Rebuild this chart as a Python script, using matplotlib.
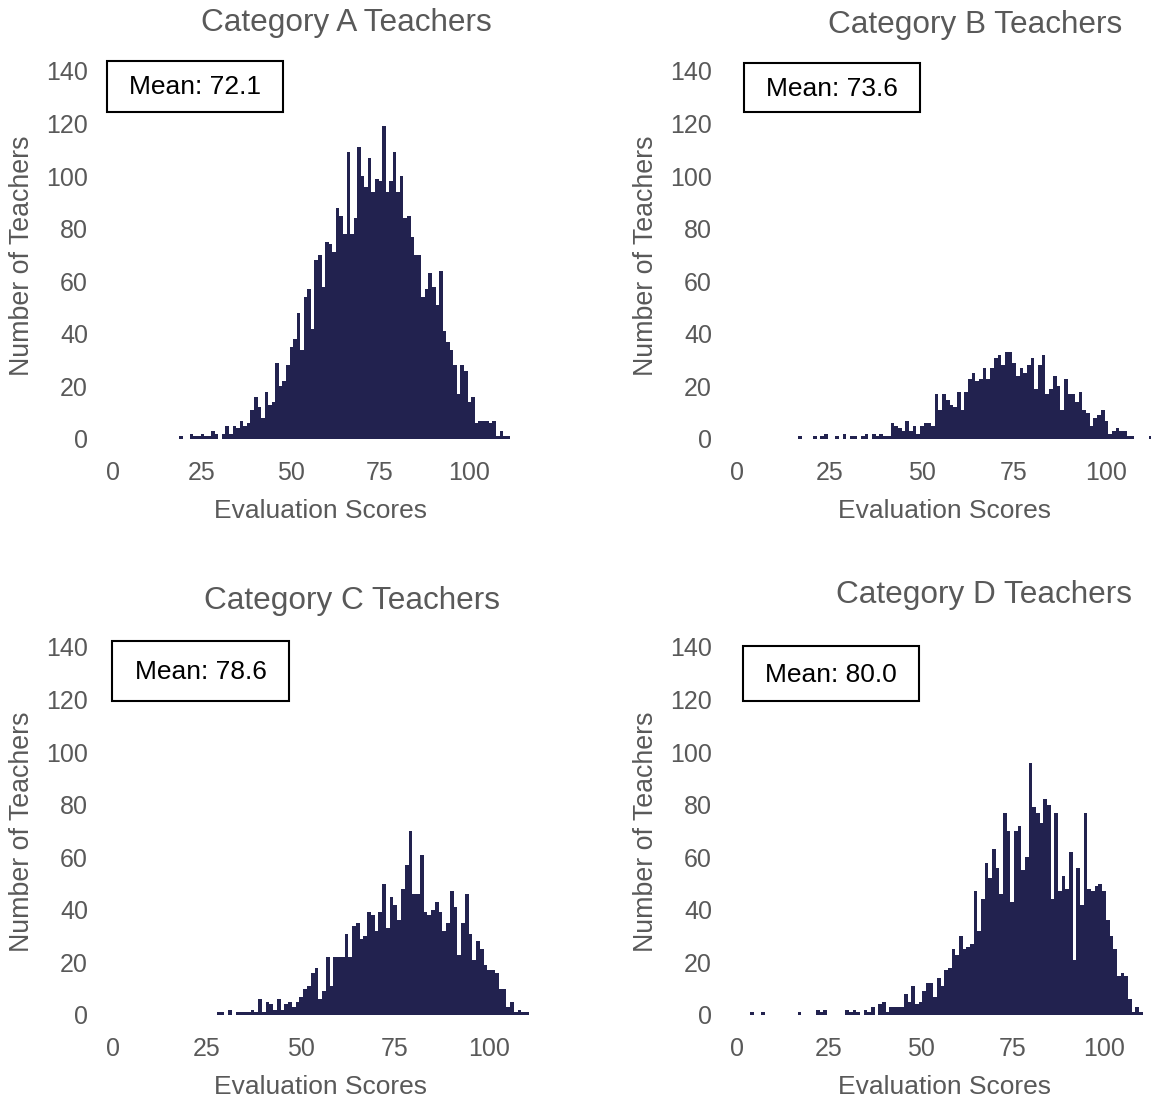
import numpy as np
import matplotlib
matplotlib.use("Agg")
import matplotlib.pyplot as plt
from matplotlib.patches import Rectangle

plt.rcParams['font.family'] = ['Liberation Sans', 'DejaVu Sans']

# histogram counts per category, 1-point bins starting at the given score
bin_width = 1.0

start_a = 18.6
counts_a = [1, 0, 0, 2, 1, 1, 2, 1, 1, 3, 2, 0, 2, 5, 2, 5, 4, 7, 5, 6,
            11, 16, 12, 8, 18, 13, 14, 29, 20, 22, 28, 35, 38, 48, 34, 54, 57, 42, 68, 70,
            58, 75, 74, 71, 88, 85, 78, 109, 78, 84, 111, 100, 96, 107, 94, 99, 98, 119, 94, 98,
            109, 94, 100, 84, 85, 77, 70, 70, 54, 57, 63, 58, 51, 64, 41, 37, 34, 28, 17, 28,
            26, 14, 16, 6, 7, 7, 7, 6, 7, 1, 3, 1, 1]

start_b = 16.6
counts_b = [1, 0, 0, 0, 1, 0, 1, 2, 0, 0, 1, 0, 2, 0, 1, 1, 0, 1, 2, 0,
            2, 1, 2, 1, 1, 6, 5, 4, 3, 7, 3, 5, 2, 5, 6, 6, 5, 17, 11, 17,
            15, 13, 12, 18, 11, 18, 23, 25, 22, 23, 27, 23, 27, 31, 32, 28, 33, 33, 29, 24,
            27, 25, 28, 31, 19, 28, 32, 17, 19, 24, 20, 11, 23, 17, 17, 14, 18, 11, 10, 5,
            8, 9, 11, 7, 2, 3, 4, 3, 3, 1, 1, 0, 0, 0, 0, 1]

start_c = 27.6
counts_c = [1, 1, 0, 2, 0, 1, 1, 1, 1, 2, 1, 6, 1, 5, 4, 2, 6, 2, 4, 5,
            3, 5, 7, 10, 11, 16, 18, 6, 9, 22, 11, 22, 22, 22, 31, 22, 34, 35, 29, 30,
            39, 38, 32, 39, 50, 33, 45, 42, 36, 48, 57, 70, 46, 46, 61, 39, 38, 40, 43, 39,
            32, 35, 47, 41, 23, 35, 46, 31, 21, 28, 25, 19, 17, 17, 16, 10, 10, 3, 5, 1,
            2, 1, 1]

start_d = 3.5
counts_d = [1, 0, 0, 1, 0, 0, 0, 0, 0, 0, 0, 0, 0, 1, 0, 0, 0, 0, 2, 1,
            2, 0, 0, 0, 0, 0, 2, 1, 2, 1, 0, 2, 1, 3, 0, 4, 5, 1, 3, 3,
            3, 3, 8, 5, 11, 4, 5, 9, 12, 12, 7, 14, 11, 17, 18, 25, 23, 30, 25, 26,
            27, 47, 32, 44, 58, 52, 63, 56, 46, 77, 70, 43, 70, 72, 55, 60, 96, 79, 77, 73,
            82, 80, 44, 77, 47, 53, 48, 62, 21, 56, 42, 77, 48, 47, 49, 50, 47, 36, 30, 25,
            15, 16, 15, 6, 1, 3, 1]

titles = ["Category A Teachers", "Category B Teachers",
          "Category C Teachers", "Category D Teachers"]
means = ["Mean: 72.1", "Mean: 73.6", "Mean: 78.6", "Mean: 80.0"]
x_ticks = [0, 25, 50, 75, 100]
y_ticks = [0, 20, 40, 60, 80, 100, 120, 140]

W, H = 1151, 1101
bar_color = "#22224f"
text_color = "#595959"

fig = plt.figure(figsize=(W / 100, H / 100), dpi=100)


def fx(px):
    return px / W


def fy(py):
    return 1 - py / H


def panel(start, counts, left, bottom, px_per_unit, xmax):
    width = xmax * px_per_unit
    ax = fig.add_axes([fx(left), fy(bottom), width / W, 368 / H])
    edges = start + bin_width * np.arange(len(counts) + 1)
    ax.stairs(counts, edges, fill=True, color=bar_color, linewidth=0)
    ax.set_xlim(0, xmax)
    ax.set_ylim(0, 140)
    ax.set_xticks(x_ticks)
    ax.set_yticks(y_ticks)
    for s in ax.spines.values():
        s.set_visible(False)
    ax.tick_params(axis='x', length=0, pad=15.5, labelsize=18, labelcolor=text_color)
    ax.tick_params(axis='y', length=0, pad=18, labelsize=18, labelcolor=text_color)
    ax.patch.set_alpha(0)
    return ax


panel(start_a, counts_a, 113, 439, 3.56, 115)
panel(start_b, counts_b, 737, 439, 3.69, 112.6)
panel(start_c, counts_c, 113, 1015, 3.76, 112)
panel(start_d, counts_d, 737, 1015, 3.67, 112)

title_pos = [(346, 23), (975, 25), (352, 601), (984, 595)]
for t, (x, y) in zip(titles, title_pos):
    fig.text(fx(x), fy(y), t, ha='center', va='center', fontsize=22.7, color=text_color)

for x, y in [(320, 511), (944, 511), (320, 1087), (944, 1087)]:
    fig.text(fx(x), fy(y), "Evaluation Scores", ha='center', va='center',
             fontsize=19, color=text_color)

for x, y in [(22, 256), (646, 256), (22, 832), (646, 832)]:
    fig.text(fx(x), fy(y), "Number of Teachers", ha='center', va='center',
             rotation=90, fontsize=19.3, color=text_color)

# boxed mean labels (left, top, right, bottom in pixels)
boxes = [(107, 61, 283, 112), (744, 63, 920, 112),
         (112, 641, 289, 701), (743, 646, 919, 701)]
for m, (x0, y0, x1, y1) in zip(means, boxes):
    fig.add_artist(Rectangle((fx(x0), fy(y1)), (x1 - x0) / W, (y1 - y0) / H,
                             transform=fig.transFigure, facecolor='white',
                             edgecolor='black', linewidth=1.5))
    fig.text(fx((x0 + x1) / 2), fy((y0 + y1) / 2 + 1), m, ha='center', va='center',
             fontsize=19, color='black')

fig.savefig("out.png", dpi=100, facecolor='white')
